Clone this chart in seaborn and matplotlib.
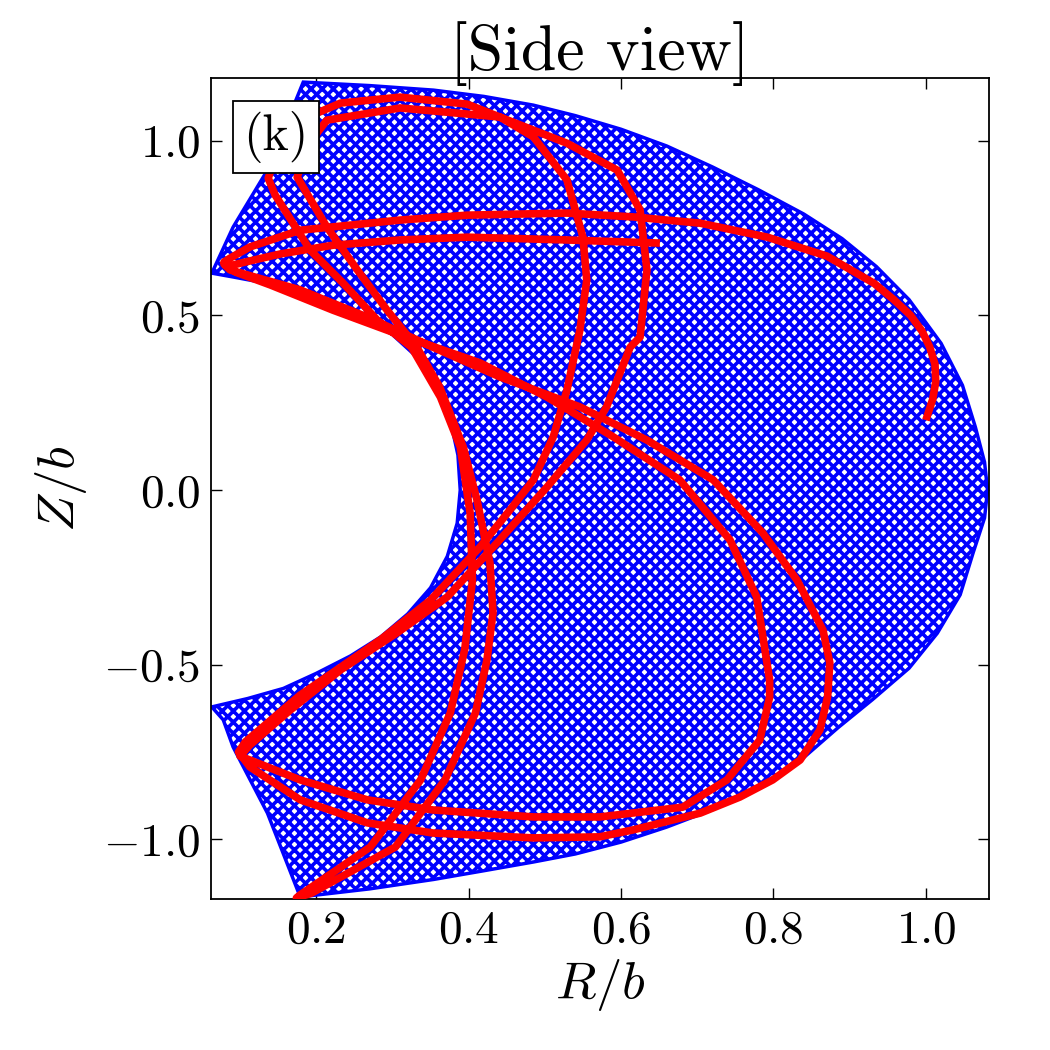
import matplotlib
matplotlib.use("Agg")
import matplotlib.pyplot as plt
import seaborn as sns

# --- orbit envelope (blue), closed polygon ----------------------------------
outer_R = [0.183, 0.270, 0.354, 0.420, 0.485, 0.540, 0.600, 0.660, 0.720,
           0.780, 0.840, 0.890, 0.935, 0.978, 1.020, 1.048, 1.065, 1.077,
           1.081, 1.077, 1.062, 1.045, 1.015, 0.978, 0.930, 0.885, 0.835,
           0.780, 0.720, 0.660, 0.600, 0.540, 0.485, 0.420, 0.354, 0.270,
           0.179]
outer_Z = [1.168, 1.158, 1.145, 1.127, 1.102, 1.072, 1.033, 0.985, 0.925,
           0.860, 0.790, 0.720, 0.640, 0.545, 0.420, 0.300, 0.180, 0.080,
           0.0, -0.080, -0.180, -0.300, -0.410, -0.510, -0.600, -0.680,
           -0.775, -0.850, -0.915, -0.965, -1.008, -1.042, -1.065, -1.090,
           -1.115, -1.142, -1.165]
low_edge_R = [0.136, 0.091, 0.078, 0.063]
low_edge_Z = [-0.925, -0.736, -0.658, -0.621]
inner_R = [0.110, 0.157, 0.200, 0.245, 0.285, 0.320, 0.350, 0.372, 0.385,
           0.389, 0.386, 0.376, 0.360, 0.335, 0.300, 0.255, 0.200, 0.140,
           0.091, 0.063]
inner_Z = [-0.597, -0.568, -0.525, -0.475, -0.420, -0.355, -0.280, -0.190,
           -0.095, 0.0, 0.100, 0.200, 0.290, 0.375, 0.445, 0.505, 0.550,
           0.590, 0.610, 0.621]
up_edge_R = [0.091, 0.136, 0.183]
up_edge_Z = [0.753, 0.916, 1.168]

# --- short orbit segment (red) ----------------------------------------------
red_R = [0.651, 0.529, 0.398, 0.310, 0.222, 0.153, 0.107, 0.085, 0.079,
         0.087, 0.179, 0.267, 0.353, 0.441, 0.546, 0.634, 0.721, 0.786,
         0.831, 0.865, 0.874, 0.871, 0.861, 0.835, 0.799, 0.756, 0.704,
         0.616, 0.572, 0.485, 0.353, 0.267, 0.179, 0.113, 0.098,
         0.107, 0.179, 0.284, 0.350, 0.415, 0.451, 0.485, 0.511, 0.529,
         0.546, 0.555, 0.550, 0.529, 0.485, 0.441, 0.398, 0.310, 0.232,
         0.179, 0.150, 0.137,
         0.146, 0.192, 0.235, 0.280, 0.325, 0.363, 0.389, 0.402, 0.405,
         0.395, 0.376, 0.337, 0.271, 0.179, 0.174,
         0.194, 0.304, 0.369, 0.409, 0.424, 0.432, 0.428, 0.411, 0.393,
         0.362, 0.332, 0.293, 0.254, 0.214, 0.175,
         0.190, 0.214, 0.310, 0.441, 0.529, 0.595, 0.625, 0.634, 0.625,
         0.612, 0.581, 0.555, 0.503, 0.437, 0.372, 0.306, 0.232, 0.166,
         0.113, 0.100,
         0.113, 0.179, 0.267, 0.353, 0.485, 0.572, 0.681, 0.739, 0.782,
         0.795, 0.795, 0.778, 0.743, 0.677, 0.590, 0.503, 0.415, 0.310,
         0.222, 0.140, 0.094, 0.079,
         0.087, 0.113, 0.179, 0.310, 0.398, 0.529, 0.616, 0.704, 0.792,
         0.870, 0.932, 0.958, 0.980, 0.995, 1.005, 1.012, 1.013, 1.009,
         1.000]
red_Z = [0.707, 0.716, 0.724, 0.716, 0.701, 0.676, 0.653, 0.641, 0.647,
         0.630, 0.573, 0.495, 0.409, 0.324, 0.238, 0.143, 0.029, -0.123,
         -0.258, -0.401, -0.495, -0.593, -0.687, -0.773, -0.830, -0.879,
         -0.925, -0.973, -0.993, -0.996, -0.982, -0.953, -0.887, -0.793,
         -0.750,
         -0.721, -0.587, -0.429, -0.315, -0.163, -0.066, 0.029, 0.152,
         0.286, 0.458, 0.601, 0.724, 0.888, 1.011, 1.068, 1.105, 1.125,
         1.108, 1.059, 0.973, 0.893,
         0.845, 0.687, 0.593, 0.487, 0.409, 0.266, 0.123, -0.066, -0.258,
         -0.455, -0.638, -0.830, -1.022, -1.159, -1.168,
         -1.154, -1.022, -0.830, -0.638, -0.487, -0.352, -0.209, -0.029,
         0.123, 0.295, 0.409, 0.515, 0.630, 0.753, 0.896,
         0.990, 1.059, 1.094, 1.068, 0.993, 0.916, 0.802, 0.630, 0.438,
         0.409, 0.238, 0.143, 0.009, -0.152, -0.306, -0.409, -0.515,
         -0.630, -0.730, -0.762,
         -0.773, -0.830, -0.887, -0.916, -0.936, -0.936, -0.908, -0.830,
         -0.716, -0.593, -0.544, -0.306, -0.143, 0.029, 0.152, 0.266,
         0.364, 0.444, 0.515, 0.587, 0.624, 0.653,
         0.664, 0.696, 0.744, 0.773, 0.787, 0.793, 0.782, 0.764, 0.724,
         0.670, 0.592, 0.545, 0.500, 0.455, 0.410, 0.360, 0.310, 0.260,
         0.200]

x_ticks = [0.2, 0.4, 0.6, 0.8, 1.0]
y_ticks = [-1.0, -0.5, 0.0, 0.5, 1.0]

sns.set_theme(style="ticks")
plt.rcParams["font.family"] = ["serif"]
plt.rcParams["font.serif"] = ["cmr10", "DejaVu Serif"]
plt.rcParams["mathtext.fontset"] = "cm"
plt.rcParams["axes.formatter.use_mathtext"] = True
plt.rcParams["hatch.linewidth"] = 2.6
for key in ("text.color", "axes.labelcolor", "xtick.color", "ytick.color"):
    plt.rcParams[key] = "black"

fig = plt.figure(figsize=(10.5, 10.5), dpi=100)
ax = fig.add_axes([0.201, 0.1438, 0.741, 0.782])

# orbit envelope: blue mesh look via hatch
env_R = outer_R + low_edge_R + inner_R + up_edge_R
env_Z = outer_Z + low_edge_Z + inner_Z + up_edge_Z
ax.fill(env_R, env_Z, facecolor="white", edgecolor="blue",
        hatch="xxx", linewidth=2.5, zorder=1)

sns.lineplot(x=red_R, y=red_Z, sort=False, estimator=None, color="red",
             linewidth=5.5, ax=ax, zorder=3, solid_joinstyle="round",
             solid_capstyle="butt")

ax.set_xlim(0.062, 1.083)
ax.set_ylim(-1.171, 1.18)
ax.set_xticks(x_ticks)
ax.set_yticks(y_ticks)
ax.tick_params(direction="in", top=True, right=True, length=8, width=1,
               labelsize=34, pad=8)
for sp in ax.spines.values():
    sp.set_linewidth(1.3)
    sp.set_color("black")

ax.set_xlabel(r"$R/b$", fontsize=38, labelpad=4)
ax.set_ylabel(r"$Z/b$", fontsize=38, labelpad=10)
ax.set_title("[Side view]", fontsize=46, pad=6)
ax.text(0.0836, 0.928, "(k)", transform=ax.transAxes, fontsize=36,
        ha="center", va="center", zorder=5,
        bbox=dict(boxstyle="square,pad=0.2", facecolor="white",
                  edgecolor="black", linewidth=1.3))

fig.savefig("out.png", dpi=100)
